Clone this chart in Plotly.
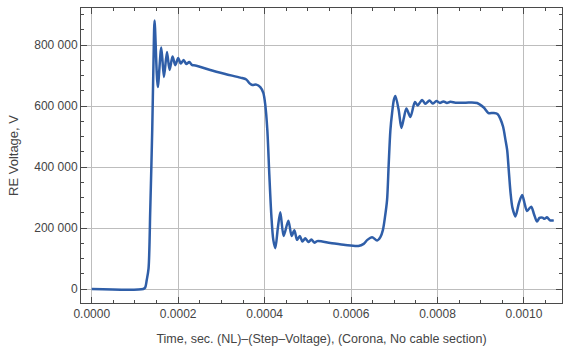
import plotly.graph_objects as go

# Receiving-end voltage waveform: step voltage with corona, no cable section
time_us = [
    0.0, 119.2, 123.8, 127.3, 131.5, 135.4, 140.0, 143.0, 145.4, 152.8,
    160.9, 167.1, 174.1, 180.1, 187.0, 193.3, 200.2, 206.0, 212.5, 218.8,
    225.7, 232.6, 239.6, 274.3, 309.0, 343.8, 357.6, 364.6, 371.5, 380.8,
    390.0, 397.0, 401.6, 406.3, 410.9, 415.5, 420.1, 424.8, 430.6, 436.3,
    444.0, 454.9, 462.5, 468.8, 475.0, 481.5, 487.3, 494.2, 501.2, 508.1,
    515.0, 522.0, 552.0, 586.8, 616.9, 629.2, 637.7, 648.6, 660.2, 667.8,
    673.6, 678.2, 683.3, 687.0, 691.0, 694.9, 699.0, 702.5, 710.2, 716.4,
    722.2, 728.0, 737.3, 747.7, 754.2, 764.4, 772.0, 781.3, 788.9, 797.5,
    805.6, 813.7, 821.8, 829.9, 841.4, 864.6, 891.7, 907.0, 917.8, 929.4,
    938.7, 945.6, 951.9, 957.2, 961.1, 964.8, 968.8, 973.4, 980.3, 988.4,
    995.8, 1001.2, 1007.0, 1016.7, 1023.1, 1030.1, 1035.9, 1042.8, 1047.5,
    1053.2, 1060.2, 1069.0,
]
voltage_kv = [
    0, 0, 4.9, 29.5, 67.9, 259, 521, 751, 880, 662,
    792, 695, 777, 718, 762, 734, 757, 739, 751, 738,
    744, 734, 733, 718, 705, 693, 687, 675, 669, 670,
    662, 643, 603, 521, 374, 243, 161, 134, 200, 252,
    174, 224, 174, 193, 161, 174, 156, 166, 154, 162,
    152, 157, 151, 144, 141, 148, 161, 170, 159, 170,
    193, 233, 292, 407, 521, 577, 620, 633, 587, 528,
    561, 592, 564, 613, 602, 620, 607, 618, 608, 616,
    610, 615, 610, 614, 611, 611, 610, 595, 577, 577,
    574, 557, 531, 489, 456, 390, 318, 266, 238, 282,
    308, 282, 256, 270, 246, 221, 233, 234, 230,
    235, 225, 225,
]

x_ticks = [0.0, 0.0002, 0.0004, 0.0006, 0.0008, 0.0010]
y_ticks = [0, 200000, 400000, 600000, 800000]

t_sec = [t * 1e-6 for t in time_us]
volts = [v * 1000 for v in voltage_kv]

fig = go.Figure()
fig.add_trace(go.Scatter(
    x=t_sec, y=volts, mode="lines",
    line=dict(color="#2f5ea8", width=2.5, shape="spline", smoothing=0.8),
    hoverinfo="skip", showlegend=False,
))

font_col = "#444444"
frame = "#4a4a4a"
axis_common = dict(
    showline=True, linecolor=frame, linewidth=1, mirror="ticks",
    ticks="inside", ticklen=6, tickcolor=frame, tickwidth=1,
    showgrid=True, gridcolor="#bdbdbd", gridwidth=1, zeroline=False,
    tickfont=dict(family="Liberation Sans, Arial", size=12, color=font_col),
)

fig.update_xaxes(
    **axis_common,
    range=[-2.48e-5, 1.088e-3],
    tickvals=x_ticks, tickformat=".4f",
    minor=dict(ticks="inside", ticklen=3, tickcolor=frame, dtick=0.00005, tick0=0, showgrid=False),
    title=dict(text="Time, sec. (NL)–(Step–Voltage), (Corona, No cable section)",
               font=dict(family="Liberation Sans, Arial", size=12.5, color=font_col), standoff=13),
)
fig.update_yaxes(
    **axis_common,
    range=[-45900, 921300],
    tickvals=y_ticks, tickformat=",d",
    minor=dict(ticks="inside", ticklen=3, tickcolor=frame, dtick=50000, tick0=0, showgrid=False),
    title=dict(text="RE Voltage, V",
               font=dict(family="Liberation Sans, Arial", size=13, color=font_col), standoff=12),
)

fig.update_layout(
    width=566, height=350,
    margin=dict(l=81, r=4, t=8, b=47),
    paper_bgcolor="white", plot_bgcolor="white",
    separators=". ",
)

fig.write_html("out.html")
